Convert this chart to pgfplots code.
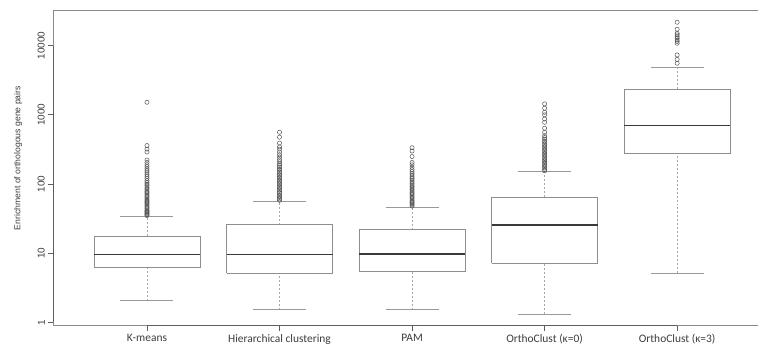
\documentclass[border=0pt]{standalone}
\usepackage{pgfplots}
\pgfplotsset{compat=1.18}
\usepackage{fontspec}
\setmainfont{Liberation Sans}
\newfontfamily\carlito{Carlito}
\definecolor{boxgray}{HTML}{8E8E8E}
\definecolor{medgray}{HTML}{3A3A3A}
\definecolor{whiskgray}{HTML}{A8A8A8}
\definecolor{capgray}{HTML}{999999}
\definecolor{framegray}{HTML}{8A8A8A}
\definecolor{axisdark}{HTML}{5E5E5E}
\definecolor{outgray}{HTML}{555555}
\definecolor{textgray}{HTML}{3C3C3C}

\pgfplotsset{
  rboxs/.style={draw=boxgray, line width=0.7pt, mark=none, solid},
  rmed/.style={draw=medgray, line width=1.6pt, mark=none},
  rstem/.style={draw=whiskgray, line width=0.7pt, mark=none, dash pattern=on 2pt off 2pt},
  rcap/.style={draw=capgray, line width=0.7pt, mark=none, solid},
  rout/.style={only marks, mark=o, mark size=2.1pt, mark options={draw=outgray, line width=0.5pt, solid, fill=none}},
}

\begin{document}
\begin{tikzpicture}
\path[use as bounding box] (-53.3bp,-31.3bp) rectangle (705bp,325.7bp);
\begin{axis}[
  at={(0,0)}, anchor=south west,
  scale only axis, width=705bp, height=315bp,
  xmin=0.293, xmax=5.61,
  ymode=log, log basis y=10,
  ymin=0.9, ymax=32000,
  unbounded coords=jump,
  ytick={1,10,100,1000,10000},
  yticklabels={1,10,100,1000,10000},
  yminorticks=false,
  xtick={1,2,3,4,5},
  xticklabels={K-means, Hierarchical clustering, PAM, OrthoClust (κ=0), OrthoClust (κ=3)},
  axis x line*=bottom, axis y line*=left,
  axis line style={framegray, line width=0.7pt},
  tick align=outside, major tick length=5bp,
  tick style={axisdark, line width=0.7pt},
  yticklabel style={rotate=90, anchor=south, font=\fontsize{10}{12}\selectfont, text=textgray},
  xticklabel style={font=\carlito\fontsize{11.5}{13}\selectfont, text=textgray},
  ylabel={Enrichment of orthologous gene pairs},
  ylabel style={at={(axis description cs:-0.0497,0.532)}, anchor=center, font=\fontsize{8.7}{10}\selectfont, text=textgray},
  clip=false,
]
\draw[framegray, line width=0.7pt] (rel axis cs:0,1) -- (rel axis cs:1,1);
\draw[axisdark, line width=0.7pt] (axis cs:1,0.9) -- (axis cs:5,0.9);
\draw[axisdark, line width=0.7pt] (axis cs:0.293,1) -- (axis cs:0.293,10000);

% ---------- K-means (x=1): lw 2.07, q1 6.27, med 9.55, q3 17.6, uw 34.3
\addplot[rstem] coordinates {(1,2.07) (1,6.27) (1,nan) (1,17.6) (1,34.3)};
\addplot[rcap] coordinates {(0.8,2.07) (1.2,2.07) (1,nan) (0.8,34.3) (1.2,34.3)};
\addplot[rboxs] coordinates {(0.6,6.27) (1.4,6.27) (1.4,17.6) (0.6,17.6) (0.6,6.27)};
\addplot[rmed] coordinates {(0.6,9.55) (1.4,9.55)};
\addplot[rout] coordinates {(1,35) (1,36) (1,37) (1,38) (1,39) (1,40) (1,41) (1,42) (1,44) (1,46) (1,48) (1,50) (1,52) (1,54) (1,56) (1,58) (1,60) (1,63) (1,66) (1,69) (1,72) (1,75) (1,78) (1,82) (1,86) (1,90) (1,95) (1,100) (1,106) (1,112) (1,120) (1,128) (1,136) (1,145) (1,155) (1,165) (1,178) (1,190) (1,205) (1,222) (1,290) (1,320) (1,360) (1,1520)};

% ---------- Hierarchical clustering (x=2): lw 1.53, q1 5.14, med 9.55, q3 25.9, uw 57
\addplot[rstem] coordinates {(2,1.53) (2,5.14) (2,nan) (2,25.9) (2,57)};
\addplot[rcap] coordinates {(1.8,1.53) (2.2,1.53) (2,nan) (1.8,57) (2.2,57)};
\addplot[rboxs] coordinates {(1.6,5.14) (2.4,5.14) (2.4,25.9) (1.6,25.9) (1.6,5.14)};
\addplot[rmed] coordinates {(1.6,9.55) (2.4,9.55)};
\addplot[rout] coordinates {(2,58) (2,61) (2,64) (2,67) (2,70) (2,74) (2,78) (2,82) (2,86) (2,90) (2,95) (2,100) (2,105) (2,110) (2,116) (2,122) (2,128) (2,135) (2,142) (2,150) (2,158) (2,166) (2,175) (2,185) (2,195) (2,210) (2,225) (2,245) (2,265) (2,290) (2,320) (2,345) (2,390) (2,475) (2,560)};

% ---------- PAM (x=3): lw 1.52, q1 5.55, med 9.67, q3 21.9, uw 46.7
\addplot[rstem] coordinates {(3,1.52) (3,5.55) (3,nan) (3,21.9) (3,46.7)};
\addplot[rcap] coordinates {(2.8,1.52) (3.2,1.52) (3,nan) (2.8,46.7) (3.2,46.7)};
\addplot[rboxs] coordinates {(2.6,5.55) (3.4,5.55) (3.4,21.9) (2.6,21.9) (2.6,5.55)};
\addplot[rmed] coordinates {(2.6,9.67) (3.4,9.67)};
\addplot[rout] coordinates {(3,48) (3,50) (3,52) (3,54) (3,56) (3,58) (3,61) (3,64) (3,67) (3,70) (3,73) (3,76) (3,80) (3,84) (3,88) (3,92) (3,97) (3,102) (3,108) (3,114) (3,120) (3,127) (3,135) (3,143) (3,152) (3,162) (3,175) (3,190) (3,205) (3,250) (3,300) (3,335)};

% ---------- OrthoClust k=0 (x=4): lw 1.31, q1 7.17, med 25.4, q3 64.4, uw 151
\addplot[rstem] coordinates {(4,1.31) (4,7.17) (4,nan) (4,64.4) (4,151)};
\addplot[rcap] coordinates {(3.8,1.31) (4.2,1.31) (4,nan) (3.8,151) (4.2,151)};
\addplot[rboxs] coordinates {(3.6,7.17) (4.4,7.17) (4.4,64.4) (3.6,64.4) (3.6,7.17)};
\addplot[rmed] coordinates {(3.6,25.4) (4.4,25.4)};
\addplot[rout] coordinates {(4,155) (4,162) (4,170) (4,178) (4,186) (4,195) (4,205) (4,215) (4,225) (4,236) (4,248) (4,260) (4,272) (4,285) (4,300) (4,315) (4,330) (4,345) (4,362) (4,380) (4,400) (4,420) (4,445) (4,470) (4,500) (4,560) (4,640) (4,780) (4,870) (4,1000) (4,1090) (4,1245) (4,1440)};

% ---------- OrthoClust k=3 (x=5): lw 5.14, q1 279, med 698, q3 2344, uw 4875
\addplot[rstem] coordinates {(5,5.14) (5,279) (5,nan) (5,2344) (5,4875)};
\addplot[rcap] coordinates {(4.8,5.14) (5.2,5.14) (5,nan) (4.8,4875) (5.2,4875)};
\addplot[rboxs] coordinates {(4.6,279) (5.4,279) (5.4,2344) (4.6,2344) (4.6,279)};
\addplot[rmed] coordinates {(4.6,698) (5.4,698)};
\addplot[rout] coordinates {(5,5570) (5,6330) (5,7340) (5,10830) (5,11500) (5,12050) (5,12800) (5,13490) (5,14300) (5,15100) (5,17260) (5,21790)};
\end{axis}
\end{tikzpicture}
\end{document}
